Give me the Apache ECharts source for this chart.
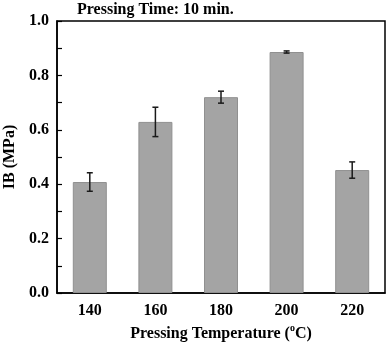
<!DOCTYPE html>
<html>
<head>
<meta charset="utf-8">
<script src="https://cdn.jsdelivr.net/npm/echarts@6/dist/echarts.min.js"></script>
<style>
  html, body { margin: 0; padding: 0; background: #fff; }
  #chart { width: 387px; height: 342px; }
</style>
</head>
<body>
<div id="chart"></div>
<script>
// pressing temperature (°C) vs internal bond strength
const temps = ['140', '160', '180', '200', '220']
const ib = [0.408, 0.629, 0.720, 0.886, 0.452]
const ibErr = [0.034, 0.054, 0.022, 0.004, 0.030]
const yTicks = [0.0, 0.2, 0.4, 0.6, 0.8, 1.0]

const FONT = '"Liberation Serif", "Times New Roman", serif'

const errData = ib.map((v, i) => [i, v - ibErr[i], v + ibErr[i]])

const chart = echarts.init(document.getElementById('chart'), null, { renderer: 'canvas' })

chart.setOption({
  backgroundColor: '#fff',
  animation: false,
  title: {
    text: 'Pressing Time: 10 min.',
    left: 72, top: -3,
    textStyle: { fontFamily: FONT, fontWeight: 'bold', fontSize: 16, color: '#000' },
  },
  grid: {
    left: 57, right: 2, top: 21, bottom: 49,
    outerBoundsMode: 'none',
    containLabel: false,
    show: true, borderColor: '#000', borderWidth: 1.5,
  },
  xAxis: {
    type: 'category',
    data: temps,
    axisLine: { lineStyle: { color: '#000', width: 1.5 } },
    axisTick: { inside: true, length: 4, interval: 0, lineStyle: { color: '#000', width: 1.2 } },
    axisLabel: {
      margin: 10, color: '#000',
      fontFamily: FONT, fontWeight: 'bold', fontSize: 16,
    },
    name: 'Pressing Temperature ({sup|o}C)',
    nameLocation: 'middle',
    nameGap: 29,
    nameTextStyle: {
      fontFamily: FONT, fontWeight: 'bold', fontSize: 16, color: '#000',
      rich: {
        sup: { fontFamily: FONT, fontWeight: 'bold', fontSize: 10, color: '#000', padding: [0, 0, 9, 0] },
      },
    },
  },
  yAxis: {
    type: 'value',
    min: yTicks[0], max: yTicks[yTicks.length - 1], interval: 0.2,
    axisLine: { show: true, lineStyle: { color: '#000', width: 1.5 } },
    axisTick: { show: true, inside: true, length: 5, lineStyle: { color: '#000', width: 1.2 } },
    minorTick: { show: true, splitNumber: 2, length: 5, lineStyle: { color: '#000', width: 1.2 } },
    splitLine: { show: false },
    axisLabel: {
      margin: 8, color: '#000',
      fontFamily: FONT, fontWeight: 'bold', fontSize: 16,
      formatter: v => v.toFixed(1),
    },
    name: 'IB (MPa)',
    nameLocation: 'middle',
    nameGap: 37,
    nameTextStyle: { fontFamily: FONT, fontWeight: 'bold', fontSize: 16, color: '#000' },
  },
  series: [
    {
      type: 'bar',
      data: ib,
      barWidth: 34,
      itemStyle: { color: '#a4a4a4', borderColor: '#909090', borderWidth: 1 },
    },
    {
      type: 'custom',
      data: errData,
      z: 10,
      renderItem: (params, api) => {
        const i = api.value(0)
        const lo = api.coord([i, api.value(1)])
        const hi = api.coord([i, api.value(2)])
        const cap = 3
        const style = { stroke: '#1a1a1a', lineWidth: 1.5 }
        return {
          type: 'group',
          children: [
            { type: 'line', shape: { x1: lo[0], y1: lo[1], x2: hi[0], y2: hi[1] }, style },
            { type: 'line', shape: { x1: hi[0] - cap, y1: hi[1], x2: hi[0] + cap, y2: hi[1] }, style },
            { type: 'line', shape: { x1: lo[0] - cap, y1: lo[1], x2: lo[0] + cap, y2: lo[1] }, style },
          ],
        }
      },
    },
  ],
})
</script>
</body>
</html>
